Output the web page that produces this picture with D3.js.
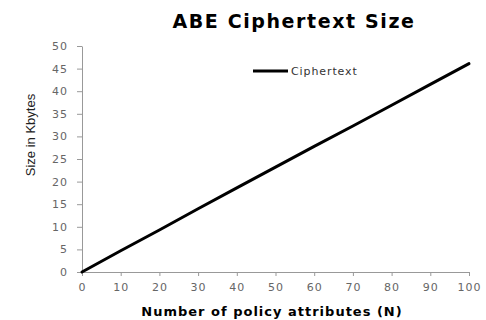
<!DOCTYPE html>
<html>
<head>
<meta charset="utf-8">
<script src="https://cdn.jsdelivr.net/npm/d3@7"></script>
<style>
body { margin: 0; background: #fff; }
svg { display: block; }
.axis text { font-family: "DejaVu Sans", Verdana, sans-serif; font-size: 11px; fill: #666; letter-spacing: 1px; }
.axis path, .axis line { stroke: #999; stroke-width: 1; }
</style>
</head>
<body>
<div id="chart"></div>
<script>
var attributes = [0, 10, 20, 30, 40, 50, 60, 70, 80, 90, 100];
var sizes = [0, 4.7, 9.3, 14.0, 18.6, 23.2, 27.8, 32.3, 36.9, 41.5, 46.1];
var xTicks = [0, 10, 20, 30, 40, 50, 60, 70, 80, 90, 100];
var yTicks = [0, 5, 10, 15, 20, 25, 30, 35, 40, 45, 50];

var width = 486, height = 320;
var padding = {left: 82, right: 16, top: 46, bottom: 48};

var svg = d3.select("#chart")
	.append("svg")
	.attr("width", width)
	.attr("height", height);

var xScale = d3.scaleLinear()
	.domain([0, 100])
	.range([padding.left, width - padding.right - 1]);

var yScale = d3.scaleLinear()
	.domain([0, 50])
	.range([height - padding.bottom, padding.top]);

var xAxis = d3.axisBottom(xScale)
	.tickValues(xTicks)
	.tickSizeInner(4)
	.tickSizeOuter(0)
	.tickPadding(7);

var yAxis = d3.axisLeft(yScale)
	.tickValues(yTicks)
	.tickSizeInner(5)
	.tickSizeOuter(0)
	.tickPadding(9);

svg.append("g")
	.attr("class", "axis")
	.attr("transform", "translate(0," + yScale(0) + ")")
	.call(xAxis);

svg.append("g")
	.attr("class", "axis")
	.attr("transform", "translate(" + padding.left + ",0)")
	.call(yAxis);

var line = d3.line()
	.x(function(d, i) { return xScale(attributes[i]); })
	.y(function(d) { return yScale(d); });

svg.append("path")
	.datum(sizes)
	.attr("d", line)
	.attr("fill", "none")
	.attr("stroke", "#000")
	.attr("stroke-width", 3)
	.attr("stroke-linecap", "round");

// title
svg.append("text")
	.attr("x", 294)
	.attr("y", 28)
	.attr("text-anchor", "middle")
	.style("font-family", "'DejaVu Sans', Verdana, sans-serif")
	.style("font-weight", "bold")
	.style("font-size", "19px")
	.style("letter-spacing", "1.6px")
	.text("ABE Ciphertext Size");

// legend
svg.append("line")
	.attr("x1", 253).attr("x2", 288)
	.attr("y1", 71).attr("y2", 71)
	.attr("stroke", "#000")
	.attr("stroke-width", 3);

svg.append("text")
	.attr("x", 291)
	.attr("y", 75)
	.style("font-family", "'DejaVu Sans', Verdana, sans-serif")
	.style("font-size", "11px")
	.style("letter-spacing", "0.9px")
	.style("fill", "#333")
	.text("Ciphertext");

// axis titles
svg.append("text")
	.attr("x", 272)
	.attr("y", 316)
	.attr("text-anchor", "middle")
	.style("font-family", "'DejaVu Sans', Verdana, sans-serif")
	.style("font-weight", "bold")
	.style("font-size", "13px")
	.style("letter-spacing", "1px")
	.text("Number of policy attributes (N)");

svg.append("text")
	.attr("transform", "translate(35,135) rotate(-90)")
	.attr("text-anchor", "middle")
	.style("font-family", "'Liberation Sans Narrow', 'Arial Narrow', sans-serif")
	.style("font-size", "13px")
	.style("fill", "#222")
	.text("Size in Kbytes");
</script>
</body>
</html>
